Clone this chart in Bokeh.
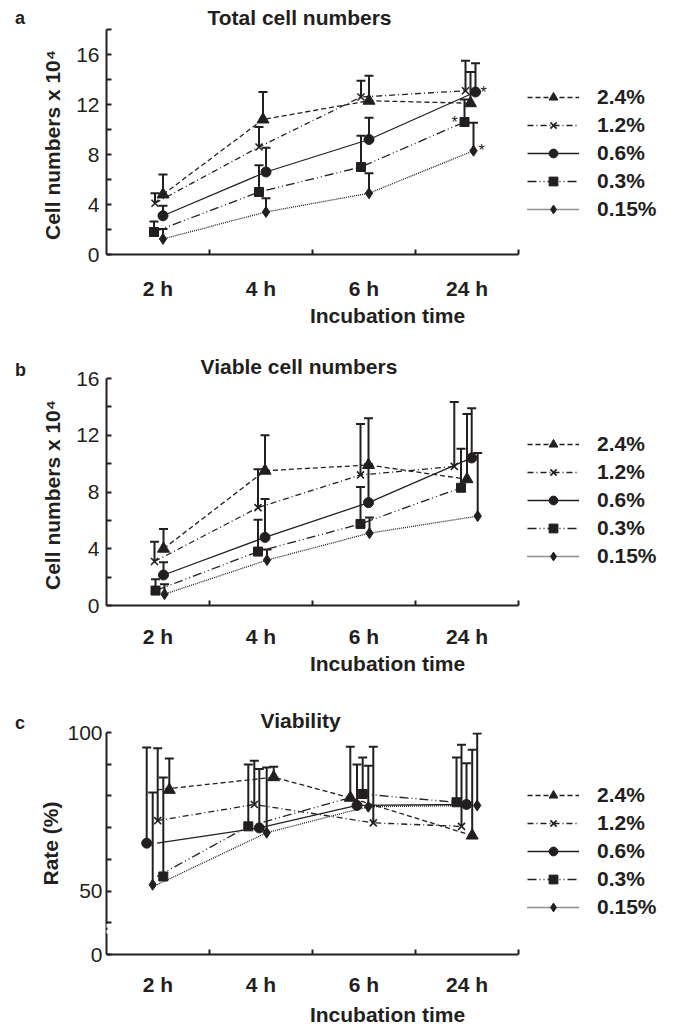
from bokeh.plotting import figure
from bokeh.layouts import column, row
from bokeh.models import (ColumnDataSource, FixedTicker, Whisker, TeeHead, Legend,
                          LegendItem, BoxAnnotation, Range1d, Title, Div)
from bokeh.core.properties import value
from bokeh.embed import file_html
from bokeh.resources import INLINE

# ---------------- data ----------------
times = ["2 h", "4 h", "6 h", "24 h"]
series = ["2.4%", "1.2%", "0.6%", "0.3%", "0.15%"]

# (a) Total cell numbers (x 10^4): mean and upper SD
total_mean = {
    "2.4%": [4.8, 10.8, 12.3, 12.1],
    "1.2%": [4.1, 8.6, 12.6, 13.1],
    "0.6%": [3.1, 6.6, 9.2, 13.0],
    "0.3%": [1.8, 5.0, 7.0, 10.6],
    "0.15%": [1.25, 3.4, 4.9, 8.3],
}
total_sd = {
    "2.4%": [1.6, 2.2, 2.0, 2.5],
    "1.2%": [0.8, 1.6, 1.3, 2.4],
    "0.6%": [0.8, 1.95, 1.75, 2.3],
    "0.3%": [0.85, 2.15, 2.5, 1.8],
    "0.15%": [0.8, 1.1, 1.6, 2.25],
}
total_sig_24h = ["0.6%", "0.3%", "0.15%"]

# (b) Viable cell numbers (x 10^4)
viable_mean = {
    "2.4%": [4.0, 9.5, 9.9, 8.9],
    "1.2%": [3.1, 6.9, 9.2, 9.8],
    "0.6%": [2.15, 4.8, 7.25, 10.4],
    "0.3%": [1.05, 3.8, 5.75, 8.3],
    "0.15%": [0.8, 3.2, 5.1, 6.3],
}
viable_sd = {
    "2.4%": [1.4, 2.5, 3.3, 4.6],
    "1.2%": [1.4, 2.7, 3.6, 4.55],
    "0.6%": [0.9, 2.7, 2.7, 3.5],
    "0.3%": [0.8, 2.25, 2.6, 2.75],
    "0.15%": [0.7, 0.75, 1.1, 4.45],
}

# (c) Viability (%)
rate_mean = {
    "2.4%": [81.9, 85.9, 79.4, 67.5],
    "1.2%": [72.2, 77.3, 71.5, 70.4],
    "0.6%": [65.1, 69.9, 77.0, 77.3],
    "0.3%": [54.6, 70.4, 80.6, 78.0],
    "0.15%": [52.0, 68.4, 76.6, 77.0],
}
rate_sd = {
    "2.4%": [9.9, 3.3, 16.1, 27.1],
    "1.2%": [22.8, 13.8, 24.0, 25.7],
    "0.6%": [30.2, 18.6, 12.9, 13.0],
    "0.3%": [31.2, 19.5, 11.5, 14.1],
    "0.15%": [29.1, 20.6, 12.9, 22.7],
}

# ---------------- layout / style ----------------
INK = "#231f20"
FONT = "Liberation Sans"
CAT_W = 103.0          # px per time category
FRAME_W = 562
DIV_W = 32

styles = {
    "2.4%": dict(dash="5 3", marker="triangle", size=12),
    "1.2%": dict(dash="6 3 1 3", marker="x", size=10),
    "0.6%": dict(dash="solid", marker="circle", size=10),
    "0.3%": dict(dash="9 3 1 3 1 3", marker="square", size=9),
    "0.15%": dict(dash="1 1", marker="diamond", size=11),
}

# horizontal marker offsets (px) inside each category
off_a = {"2.4%": [5, 2, 5, 3.5], "1.2%": [-3, -2, -3, -1.5], "0.6%": [5, 5, 5, 8.5],
         "0.3%": [-4, -2, -3, -2.5], "0.15%": [5, 5, 5, 6.5]}
off_b = {"2.4%": [5.5, 4, 4.5, 0], "1.2%": [-3.5, -3, -3.5, -12.7], "0.6%": [5.5, 4, 4.5, 4.7],
         "0.3%": [-2.5, -3, -3.5, -6], "0.15%": [6.5, 6, 5.5, 10.7]}
off_c = {"2.4%": [11.3, 12.7, -13.7, 5.2], "1.2%": [-0.3, -6.7, 9.3, -5.5],
         "0.6%": [-11.3, -1.7, -7, -0.5], "0.3%": [5.3, -12.7, -1.3, -10.5],
         "0.15%": [-5.3, 5.7, 4.3, 10.2]}


def make_panel(mean, sd, offs, title, title_offset, ylabel,
               y_start, y_end, y_major, y_minor, y_overrides,
               frame_h, top, bottom, tick_standoff, label_standoff,
               ytick_standoff, ylabel_standoff, legend_vy,
               line_start_common=False, sig=None):
    x_end = FRAME_W / CAT_W
    p = figure(frame_width=FRAME_W, frame_height=frame_h,
               x_range=Range1d(0, x_end), y_range=Range1d(y_start, y_end),
               output_backend="svg", toolbar_location=None,
               min_border_left=106 - DIV_W, min_border_right=0,
               min_border_top=top, min_border_bottom=bottom)
    p.outline_line_color = None
    p.xgrid.visible = False
    p.ygrid.visible = False

    t = Title(text=title, align="left", offset=title_offset, standoff=2,
              text_font=FONT, text_font_size="21px", text_font_style="bold",
              text_color=INK)
    p.add_layout(t, "above")

    # x axis: labels at category centres, ticks at boundaries
    xa = p.xaxis[0]
    xa.ticker = FixedTicker(ticks=[i + 0.5 for i in range(len(times))],
                            minor_ticks=[i + 1 for i in range(len(times))])
    xa.major_label_overrides = {i + 0.5: lab for i, lab in enumerate(times)}
    xa.bounds = (0, len(times))
    xa.major_tick_in = 0
    xa.major_tick_out = 0
    xa.minor_tick_in = 5
    xa.minor_tick_out = 0
    xa.axis_line_width = 2
    xa.minor_tick_line_width = 2
    xa.axis_line_color = INK
    xa.minor_tick_line_color = INK
    xa.major_label_text_font = FONT
    xa.major_label_text_font_size = "21px"
    xa.major_label_text_font_style = "bold"
    xa.major_label_text_color = INK
    xa.major_label_standoff = tick_standoff
    xa.axis_label = "Incubation time"
    xa.axis_label_text_font = FONT
    xa.axis_label_text_font_size = "21px"
    xa.axis_label_text_font_style = "bold"
    xa.axis_label_text_color = INK
    xa.axis_label_standoff = label_standoff

    ya = p.yaxis[0]
    ya.ticker = FixedTicker(ticks=y_major, minor_ticks=y_minor)
    if y_overrides:
        ya.major_label_overrides = y_overrides
    ya.bounds = (y_start, max(y_major + y_minor))
    ya.major_tick_in = 5
    ya.major_tick_out = 0
    ya.minor_tick_in = 5
    ya.minor_tick_out = 0
    ya.axis_line_width = 2
    ya.major_tick_line_width = 2
    ya.minor_tick_line_width = 2
    ya.axis_line_color = INK
    ya.major_tick_line_color = INK
    ya.minor_tick_line_color = INK
    ya.major_label_text_font = FONT
    ya.major_label_text_font_size = "21px"
    ya.major_label_text_color = INK
    ya.major_label_standoff = ytick_standoff
    ya.axis_label = ylabel
    ya.axis_label_text_font = FONT
    ya.axis_label_text_font_size = "21px"
    ya.axis_label_text_font_style = "bold"
    ya.axis_label_text_color = INK
    ya.axis_label_standoff = ylabel_standoff

    items = []
    for s in series:
        st = styles[s]
        xs = [i + 0.5 + o / CAT_W for i, o in enumerate(offs[s])]
        lx = list(xs)
        if line_start_common:
            lx[0] = 0.5 - 1 / CAT_W
        ys = mean[s]
        up = [m + d for m, d in zip(ys, sd[s])]
        lr = p.line(lx, ys, line_color=INK, line_width=1.3,
                    line_dash=st["dash"])
        src = ColumnDataSource(dict(x=xs, lower=ys, upper=up))
        w = Whisker(base="x", lower="lower", upper="upper", source=src,
                    dimension="height", line_color=INK, line_width=2,
                    lower_head=None,
                    upper_head=TeeHead(size=9, line_width=2, line_color=INK))
        p.add_layout(w)
        if st["marker"] == "x":
            sr = p.scatter(xs, ys, marker="x", size=st["size"], line_color=INK,
                           line_width=1.6)
        else:
            sr = p.scatter(xs, ys, marker=st["marker"], size=st["size"],
                           fill_color=INK, line_color=INK)
        items.append(LegendItem(label=s, renderers=[lr, sr]))

    if sig:
        last = len(times) - 1
        for s, dx in sig:
            x = last + 0.5 + (offs[s][last] + dx) / CAT_W
            p.text([x], [mean[s][last]], text=["*"], text_font=value(FONT),
                   text_font_size="16px", text_color=INK, text_align="center",
                   text_baseline="middle")

    leg = Legend(items=items, location=(421, legend_vy), glyph_width=52,
                 glyph_height=22, label_height=22, spacing=4, padding=0,
                 margin=0, label_standoff=18, border_line_color=None,
                 background_fill_alpha=0, label_text_font=FONT,
                 label_text_font_size="21px", label_text_font_style="bold",
                 label_text_color=INK)
    p.add_layout(leg)
    return p


def letter_div(letter, pad_top, height):
    html = ('<div style="font-family:\'Liberation Sans\',Arial,sans-serif;'
            'font-weight:bold;font-size:18px;line-height:20px;color:%s;'
            'padding-top:%dpx;padding-left:15px">%s</div>' % (INK, pad_top, letter))
    return Div(text=html, width=DIV_W, height=height, margin=0)


pa = make_panel(total_mean, total_sd, off_a, "Total cell numbers", 101,
                "Cell numbers  x 10\u2074", 0, 18, [0, 4, 8, 12, 16],
                [2, 6, 10, 14, 18], None, frame_h=225, top=29, bottom=76,
                tick_standoff=22, label_standoff=1, ytick_standoff=7,
                ylabel_standoff=9, legend_vy=33,
                sig=[("0.6%", 8), ("0.3%", -10), ("0.15%", 8)])

pb = make_panel(viable_mean, viable_sd, off_b, "Viable cell numbers", 94,
                "Cell numbers  x 10\u2074", 0, 16, [0, 4, 8, 12, 16],
                [2, 6, 10, 14], None, frame_h=227, top=48, bottom=75,
                tick_standoff=19, label_standoff=1, ytick_standoff=7,
                ylabel_standoff=9, legend_vy=37)

pc = make_panel(rate_mean, rate_sd, off_c, "Viability", 154,
                "Rate (%)", 30, 100, [30, 50, 100], [40, 60, 70, 80, 90],
                {30: "0"}, frame_h=222, top=52, bottom=72,
                tick_standoff=18, label_standoff=4, ytick_standoff=4,
                ylabel_standoff=2, legend_vy=35, line_start_common=True)
# axis break on the Viability y axis
pc.add_layout(BoxAnnotation(left=-0.05, right=0.05, bottom=38.5, top=39.6,
                            fill_color="white", fill_alpha=1, line_color=None))
pc.add_layout(BoxAnnotation(left=-0.05, right=0.05, bottom=36.6, top=37.7,
                            fill_color="white", fill_alpha=1, line_color=None))

layout = column(
    row(letter_div("a", 8, 330), pa),
    row(letter_div("b", 30, 350), pb),
    row(letter_div("c", 33, 346), pc),
)
open("out.html", "w").write(file_html(layout, INLINE))
